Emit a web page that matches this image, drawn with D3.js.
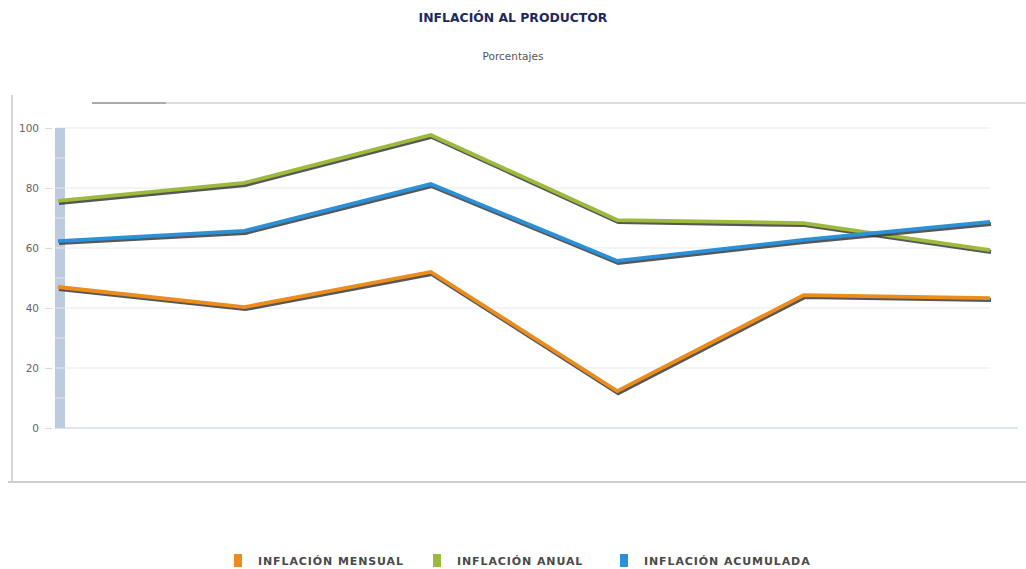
<!DOCTYPE html>
<html>
<head>
<meta charset="utf-8">
<script src="https://cdn.jsdelivr.net/npm/d3@7"></script>
<style>
  html, body { margin: 0; padding: 0; background: #fff; }
  svg { display: block; }
</style>
</head>
<body>
<svg id="chart" width="1026" height="569"></svg>
<script>
// Periods along the x axis (unlabelled in the chart)
const periods = ["P1", "P2", "P3", "P4", "P5", "P6"];
// Series values, in percent
const mensual   = [47.0, 40.3, 52.0, 12.3, 44.3, 43.3];
const anual     = [75.7, 81.7, 97.7, 69.3, 68.3, 59.3];
const acumulada = [62.3, 65.7, 81.3, 55.7, 62.7, 68.7];
const seriesNames = ["INFLACIÓN MENSUAL", "INFLACIÓN ANUAL", "INFLACIÓN ACUMULADA"];
const yTicks = [0, 20, 40, 60, 80, 100];

const colors = ["#ec8c1c", "#9dba3c", "#2a90d8"];
const series = [mensual, anual, acumulada];

const svg = d3.select("#chart");
const font = "'DejaVu Sans', Verdana, sans-serif";

// Titles
svg.append("text").attr("x", 513).attr("y", 22).attr("text-anchor", "middle")
  .attr("font-family", font).attr("font-weight", "bold").attr("font-size", 12.4)
  .attr("fill", "#1d2a5e").text("INFLACIÓN AL PRODUCTOR");
svg.append("text").attr("x", 513).attr("y", 60).attr("text-anchor", "middle")
  .attr("font-family", font).attr("font-size", 10.5)
  .attr("fill", "#555").text("Porcentajes");

// Panel frame
svg.append("line").attr("x1", 12).attr("x2", 12).attr("y1", 95).attr("y2", 482)
  .attr("stroke", "#c8c8c8").attr("stroke-width", 1.5);
svg.append("line").attr("x1", 8).attr("x2", 1026).attr("y1", 482).attr("y2", 482)
  .attr("stroke", "#cfcfcf").attr("stroke-width", 2);
svg.append("line").attr("x1", 92).attr("x2", 1026).attr("y1", 103).attr("y2", 103)
  .attr("stroke", "#d2d2d2").attr("stroke-width", 1.5);
svg.append("line").attr("x1", 92).attr("x2", 166).attr("y1", 103).attr("y2", 103)
  .attr("stroke", "#999").attr("stroke-width", 1.5);

// Scales
const x = d3.scalePoint().domain(periods).range([58, 990]);
const y = d3.scaleLinear().domain([0, 100]).range([428, 128]);

// Gridlines
svg.append("g").selectAll("line").data(yTicks.filter(d => d > 0)).join("line")
  .attr("x1", 55).attr("x2", 990)
  .attr("y1", d => y(d)).attr("y2", d => y(d))
  .attr("stroke", "#eef0f3").attr("stroke-width", 1.5);
svg.append("line").attr("x1", 55).attr("x2", 1018).attr("y1", y(0)).attr("y2", y(0))
  .attr("stroke", "#d5dde6").attr("stroke-width", 1.5);

// Y axis
const yAxis = d3.axisLeft(y).tickValues(yTicks).tickSize(7).tickPadding(6);
const gy = svg.append("g").attr("transform", "translate(52,0)").call(yAxis);
gy.select(".domain").remove();
gy.selectAll(".tick line").attr("stroke", "#d8d8d8");
gy.selectAll(".tick text").attr("font-family", font).attr("font-size", 10.5).attr("fill", "#666");

// Vertical band at the first period with minor marks
svg.append("rect").attr("x", 55).attr("y", y(100)).attr("width", 10)
  .attr("height", y(0) - y(100)).attr("fill", "#bccbdd");
svg.append("g").selectAll("line").data(d3.range(10, 100, 10)).join("line")
  .attr("x1", 55).attr("x2", 65).attr("y1", d => y(d)).attr("y2", d => y(d))
  .attr("stroke", "#e4eaf2").attr("stroke-width", 1);

// Lines with drop shadow
const line = d3.line().x((d, i) => x(periods[i])).y(d => y(d));
series.forEach((s, k) => {
  svg.append("path").datum(s).attr("d", line)
    .attr("transform", "translate(1,2)")
    .attr("fill", "none").attr("stroke", "#3a3a3a").attr("stroke-opacity", 0.85)
    .attr("stroke-width", 4).attr("stroke-linejoin", "miter");
  svg.append("path").datum(s).attr("d", line)
    .attr("fill", "none").attr("stroke", colors[k])
    .attr("stroke-width", 3.8).attr("stroke-linejoin", "miter");
});

// Legend
const legendX = [234, 433, 620];
const lg = svg.append("g");
seriesNames.forEach((name, k) => {
  lg.append("rect").attr("x", legendX[k]).attr("y", 554).attr("width", 8).attr("height", 13)
    .attr("fill", colors[k]);
  lg.append("text").attr("x", legendX[k] + 24).attr("y", 565)
    .attr("font-family", font).attr("font-weight", "bold").attr("font-size", 11)
    .attr("letter-spacing", 0.9)
    .attr("fill", "#4a4a4a").text(name);
});
</script>
</body>
</html>
